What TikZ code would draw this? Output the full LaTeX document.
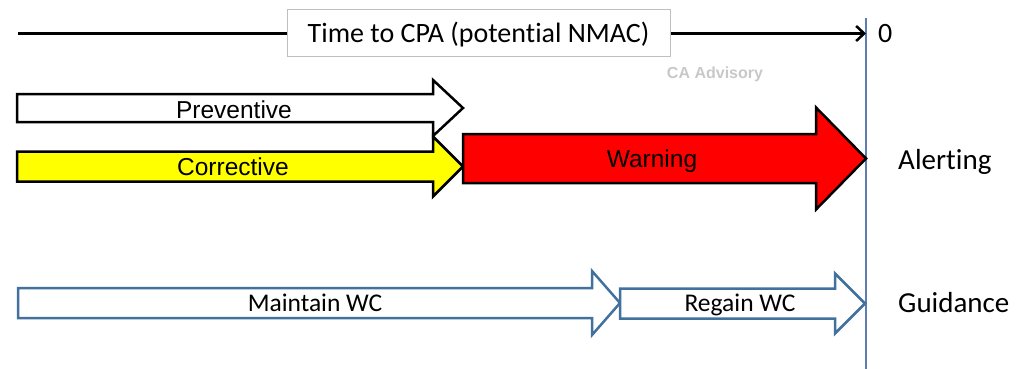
\documentclass[tikz,border=0pt]{standalone}
\usepackage{fontspec}
\setmainfont{Carlito}[Ligatures=NoCommon]
\newfontfamily\arialfont{Liberation Sans}
\usetikzlibrary{arrows.meta}
\definecolor{wcblue}{HTML}{41719C}
\definecolor{vline}{HTML}{5B7DB1}
\definecolor{boxgray}{HTML}{BFBFBF}
\definecolor{warnred}{HTML}{FF0000}
\definecolor{coryellow}{HTML}{FFFF00}
\definecolor{advgray}{HTML}{C8C8C8}
% #1 style, #2 x start, #3 head base x, #4 tip x, #5 centre y, #6 shaft half, #7 head half
\newcommand\fatarrow[7]{%
  \draw[#1] (#2,#5-#6) -- (#3,#5-#6) -- (#3,#5-#7) -- (#4,#5) -- (#3,#5+#7)
    -- (#3,#5+#6) -- (#2,#5+#6) -- cycle;}
\begin{document}
\begin{tikzpicture}[x=1pt,y=-1pt,
  blk/.style={draw=black, line width=2.5pt, line join=miter},
  blu/.style={draw=wcblue, line width=2.5pt, line join=miter, fill=white},
  alab/.style={inner sep=0pt, anchor=base, font=\arialfont\fontsize{24.5}{24.5}\selectfont},
  clab/.style={inner sep=0pt, anchor=base, font=\fontsize{25.5}{25.5}\selectfont},
  side/.style={inner sep=0pt, anchor=base west, font=\fontsize{29}{29}\selectfont},
]
\useasboundingbox (0,0) rectangle (1019,369);

% vertical zero line
\coordinate (vtop) at (866,18);
\coordinate (vbot) at (866,369);
\draw[vline, line width=1.5pt] (vtop) -- (vbot);

% time axis
\coordinate (ls) at (18,33.5);
\coordinate (le) at (866,33.5);
\node[draw=boxgray, line width=1pt, fill=white, minimum width=383pt, minimum height=47pt,
  inner sep=0pt] (timebox) at (478.5,33.5) {};
\node[inner sep=0pt, anchor=base, font=\fontsize{28}{28}\selectfont] (timetext) at (478.5,42.5)
  {Time to CPA (potential NMAC)};
\draw[line width=2.5pt] (ls) -- (timebox.west);
\draw[line width=2.5pt, -{Straight Barb[length=8pt,width=15pt]}] (timebox.east) -- (le);
\node[inner sep=0pt, anchor=base west, font=\fontsize{28}{28}\selectfont] (zero) at (878,43) {0};

% CA Advisory
\node[inner sep=0pt, anchor=base, text=advgray, font=\arialfont\bfseries\fontsize{16}{16}\selectfont] (adv) at (715,78) {CA Advisory};

% alerting arrows
\fatarrow{blk, fill=white}{17}{433}{463}{108}{14}{28}
\fatarrow{blk, fill=coryellow}{17}{433}{463}{166.5}{15}{30}
\fatarrow{blk, fill=warnred}{463}{816}{866}{158.5}{24.5}{51}
\node[alab] (prev) at (234,118.5) {Preventive};
\node[alab] (corr) at (233,175.5) {Corrective};
\node[alab] (warn) at (652,167.5) {Warning};
\node[side] (alert) at (898,169.5) {Alerting};

% guidance arrows
\fatarrow{blu}{18}{592}{620}{303}{15}{32}
\fatarrow{blu}{620}{835}{865}{303.5}{15}{30}
\node[clab] (maint) at (315,311.5) {Maintain WC};
\node[clab] (regain) at (740,311.5) {Regain WC};
\node[side] (guid) at (898,312.5) {Guidance};
\end{tikzpicture}
\end{document}
